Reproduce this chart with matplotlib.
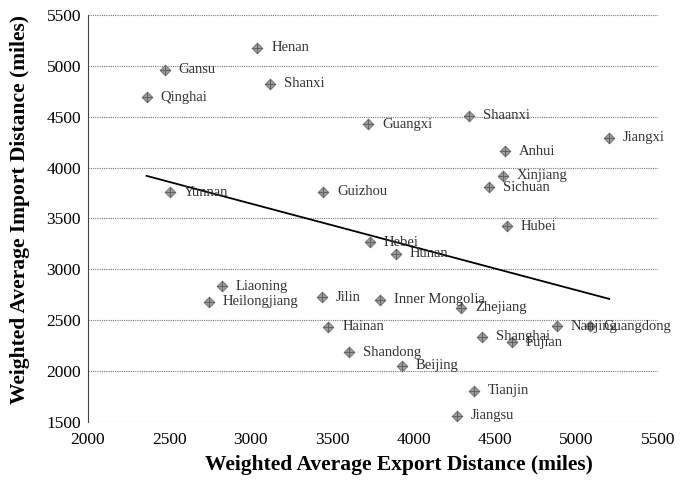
import numpy as np
import matplotlib
matplotlib.use("Agg")
import matplotlib.pyplot as plt

provinces = ["Henan", "Gansu", "Qinghai", "Shanxi", "Shaanxi", "Guangxi", "Jiangxi",
             "Anhui", "Xinjiang", "Sichuan", "Yunnan", "Guizhou", "Hubei", "Hebei",
             "Hunan", "Liaoning", "Heilongjiang", "Jilin", "Inner Mongolia", "Zhejiang",
             "Hainan", "Nanjing", "Guangdong", "Shanghai", "Fujian", "Shandong",
             "Beijing", "Tianjin", "Jiangsu"]
export_dist = [3040, 2470, 2360, 3120, 4340, 3720, 5200,
               4560, 4545, 4460, 2505, 3445, 4570, 3730,
               3890, 2820, 2740, 3435, 3795, 4290,
               3475, 4880, 5080, 4420, 4600, 3600,
               3925, 4370, 4265]
import_dist = [5180, 4960, 4690, 4825, 4510, 4425, 4295,
               4160, 3920, 3805, 3760, 3765, 3425, 3265,
               3155, 2835, 2680, 2725, 2700, 2620,
               2435, 2440, 2440, 2335, 2285, 2185,
               2050, 1805, 1560]

x_ticks = [2000, 2500, 3000, 3500, 4000, 4500, 5000, 5500]
y_ticks = [1500, 2000, 2500, 3000, 3500, 4000, 4500, 5000, 5500]

plt.rcParams['font.family'] = ['Liberation Serif', 'DejaVu Serif']

fig = plt.figure(figsize=(6.82, 4.86), dpi=100)
ax = fig.add_axes([0.129, 0.132, 0.836, 0.837])

x = np.array(export_dist, dtype=float)
y = np.array(import_dist, dtype=float)

ax.scatter(x, y, marker='D', s=30, facecolor='#9a9a9a', edgecolor='#6a6a6a',
           linewidth=0.6, zorder=3)
ax.scatter(x, y, marker='+', s=45, color='#5a5a5a', linewidth=0.6, zorder=4)

for name, xi, yi in zip(provinces, x, y):
    ax.annotate(name, (xi, yi), xytext=(10, 0), textcoords='offset points',
                va='center', ha='left', fontsize=10.5, color='#333333', zorder=5)

# linear trend line (least squares)
slope, intercept = np.polyfit(x, y, 1)
xl = np.array([x.min(), x.max()])
ax.plot(xl, slope * xl + intercept, color='black', linewidth=1.3, zorder=2)

ax.set_xlim(2000, 5500)
ax.set_ylim(1500, 5500)
ax.set_xticks(x_ticks)
ax.set_yticks(y_ticks)
ax.tick_params(axis='x', length=0, labelsize=12.5, pad=7)
ax.tick_params(axis='y', length=0, labelsize=12.5, pad=5)
ax.yaxis.grid(True, linestyle=(0, (1, 1)), color='#777777', linewidth=0.8)
ax.set_axisbelow(True)
for s in ['top', 'right', 'bottom']:
    ax.spines[s].set_visible(False)
ax.spines['left'].set_linestyle((0, (1, 1)))
ax.spines['left'].set_color('#444444')

ax.set_xlabel('Weighted Average Export Distance (miles)', fontsize=15.5,
              fontweight='bold', va='center')
ax.set_ylabel('Weighted Average Import Distance (miles)', fontsize=15.5,
              fontweight='bold', va='center')
ax.xaxis.set_label_coords(0.546, -0.106)
ax.yaxis.set_label_coords(-0.119, 0.521)

fig.savefig('out.png', dpi=100)
